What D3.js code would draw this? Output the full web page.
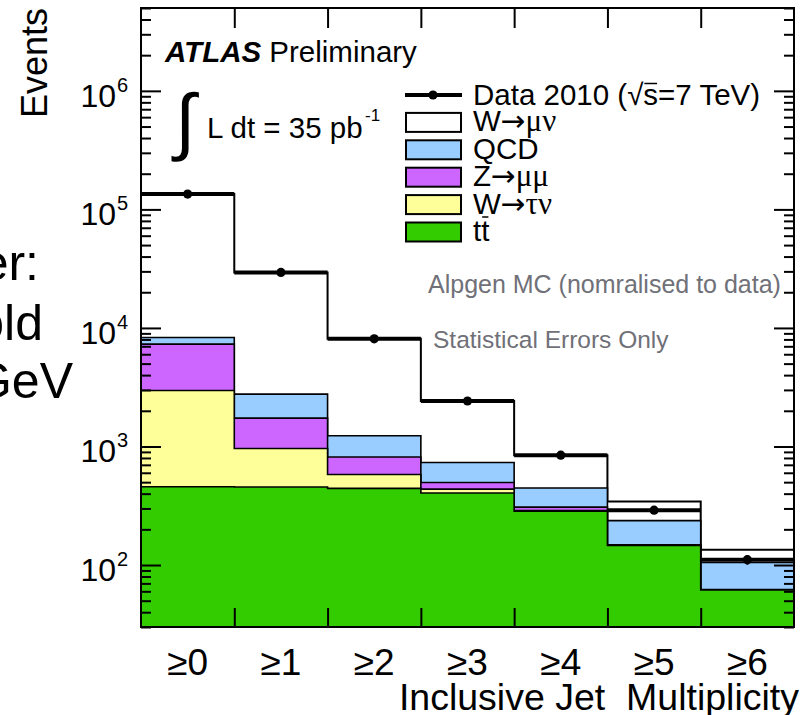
<!DOCTYPE html>
<html><head><meta charset="utf-8">
<script src="https://cdn.jsdelivr.net/npm/d3@7"></script>
<style>
html,body{margin:0;padding:0;background:#fff;}
svg{display:block;}
text{font-family:"Liberation Sans",Arial,Helvetica,sans-serif;fill:#000;}
.greek{font-family:"Liberation Serif","DejaVu Serif",serif;}
.arrow{font-family:"DejaVu Sans",sans-serif;}
</style></head><body>
<svg id="chart" width="802" height="715"></svg>
<script>
// Inclusive jet multiplicity bins
const categories = ["≥0","≥1","≥2","≥3","≥4","≥5","≥6"];
// Observed events (data 2010)
const dataCounts = [134600, 29400, 8100, 2420, 845, 290, 111];
// Monte Carlo components, stacked bottom to top
const ttbar  = [457, 455, 443, 405, 284, 146, 61.5];
const wtaunu = [2508, 506, 138, 32, 4, 1, 0.3];
const zmumu  = [4335, 773, 234, 60, 20, 1, 0.3];
const qcd    = [1000, 1033, 415, 236, 138, 89, 43];
const wmunu  = [126300, 26633, 6870, 1687, 399, 107, 29.6];
// Axis decades and their printed exponents
const yMajorTicks = [1e2, 1e3, 1e4, 1e5, 1e6];
const yTickExponents = ["2", "3", "4", "5", "6"];

const svg = d3.select("#chart");
const plotLeft = 141, plotRight = 794, plotTop = 8, plotBottom = 627;

const x = d3.scaleLinear().domain([0, categories.length]).range([plotLeft, plotRight]);
const y = d3.scaleLog().domain([30, 5e6]).range([plotBottom, plotTop]);

const components = [
  {key: "ttbar",  values: ttbar,  color: "#33cc00"},
  {key: "wtaunu", values: wtaunu, color: "#ffff99"},
  {key: "zmumu",  values: zmumu,  color: "#cc66ff"},
  {key: "qcd",    values: qcd,    color: "#99ccff"},
  {key: "wmunu",  values: wmunu,  color: "#ffffff"}
];

const rows = categories.map((c, i) => {
  const r = {bin: i};
  components.forEach(s => r[s.key] = s.values[i]);
  return r;
});
const stacked = d3.stack().keys(components.map(s => s.key))(rows);

const stepPoints = layer => {
  const pts = layer.map((d, i) => [x(i), y(d[1])]);
  pts.push([x(layer.length), y(layer[layer.length - 1][1])]);
  return pts;
};
const area = d3.area().x(d => d[0]).y0(plotBottom).y1(d => d[1]).curve(d3.curveStepAfter);
const line = d3.line().x(d => d[0]).y(d => d[1]).curve(d3.curveStepAfter);

const plot = svg.append("g");
// Paint cumulative layers from the top of the stack downward
stacked.slice().reverse().forEach(layer => {
  const comp = components.find(s => s.key === layer.key);
  const pts = stepPoints(layer);
  plot.append("path").attr("d", area(pts)).attr("fill", comp.color);
  plot.append("path").attr("d", line(pts)).attr("fill", "none")
    .attr("stroke", "#000").attr("stroke-width", layer.key === "wmunu" ? 2 : 1.6);
});

// Data points with bin-width horizontal bars and statistical errors
const dataG = svg.append("g");
dataCounts.forEach((v, i) => {
  dataG.append("line").attr("x1", x(i)).attr("x2", x(i + 1))
    .attr("y1", y(v)).attr("y2", y(v)).attr("stroke", "#000").attr("stroke-width", 4);
  const err = Math.sqrt(v);
  dataG.append("line").attr("x1", x(i + 0.5)).attr("x2", x(i + 0.5))
    .attr("y1", y(v + err)).attr("y2", y(v - err)).attr("stroke", "#000").attr("stroke-width", 2);
  dataG.append("circle").attr("cx", x(i + 0.5)).attr("cy", y(v)).attr("r", 4.6).attr("fill", "#000");
});

// Axes: ticks drawn inward on all four sides
const minorTicks = [];
for (let e = 1; e <= 6; e++) for (let m = 2; m <= 9; m++) {
  const v = m * Math.pow(10, e);
  if (v >= 30 && v <= 5e6) minorTicks.push(v);
}
const styleAxis = g => { g.select(".domain").remove(); g.selectAll("text").remove();
  g.selectAll("line").attr("stroke", "#000").attr("stroke-width", 2); };

svg.append("g").attr("transform", `translate(${plotLeft},0)`)
  .call(d3.axisLeft(y).tickValues(yMajorTicks).tickSize(-20)).call(styleAxis);
svg.append("g").attr("transform", `translate(${plotLeft},0)`)
  .call(d3.axisLeft(y).tickValues(minorTicks).tickSize(-10)).call(styleAxis);
svg.append("g").attr("transform", `translate(${plotRight},0)`)
  .call(d3.axisRight(y).tickValues(yMajorTicks).tickSize(-20)).call(styleAxis);
svg.append("g").attr("transform", `translate(${plotRight},0)`)
  .call(d3.axisRight(y).tickValues(minorTicks).tickSize(-10)).call(styleAxis);

const edges = d3.range(1, categories.length);
svg.append("g").attr("transform", `translate(0,${plotBottom})`)
  .call(d3.axisBottom(x).tickValues(edges).tickSize(-19)).call(styleAxis);
svg.append("g").attr("transform", `translate(0,${plotTop})`)
  .call(d3.axisTop(x).tickValues(edges).tickSize(-20)).call(styleAxis);

// Frame
svg.append("rect").attr("x", plotLeft).attr("y", plotTop).attr("width", plotRight - plotLeft)
  .attr("height", plotBottom - plotTop).attr("fill", "none").attr("stroke", "#000").attr("stroke-width", 2);

// Y tick labels 10^n
yMajorTicks.forEach((v, i) => {
  svg.append("text").attr("x", 116).attr("y", y(v) + 16).attr("text-anchor", "end")
    .attr("font-size", 32).text("10");
  svg.append("text").attr("x", 117).attr("y", y(v) + 1).attr("font-size", 20)
    .text(yTickExponents[i]);
});

// X tick labels
categories.forEach((c, i) => {
  svg.append("text").attr("x", x(i + 0.5)).attr("y", 675).attr("text-anchor", "middle")
    .attr("font-size", 37).text(c);
});

// Axis titles
svg.append("text").attr("x", 799).attr("y", 710).attr("text-anchor", "end")
  .attr("font-size", 37.5).attr("xml:space", "preserve").text("Inclusive Jet  Multiplicity");
svg.append("text").attr("transform", "translate(47,8) rotate(-90)").attr("text-anchor", "end")
  .attr("font-size", 36).text("Events");

// Slide text at the left edge
[["er:", 39, 280], ["old", 43, 340], ["GeV", 73, 398]].forEach(([t, tx, ty]) => {
  svg.append("text").attr("x", tx).attr("y", ty).attr("text-anchor", "end")
    .attr("font-size", 50).text(t);
});

// ATLAS label and luminosity
const atlas = svg.append("text").attr("x", 165).attr("y", 62).attr("font-size", 29.5);
atlas.append("tspan").attr("font-weight", "bold").attr("font-style", "italic").text("ATLAS");
atlas.append("tspan").text(" Preliminary");
svg.append("text").attr("x", 175).attr("y", 146).attr("font-size", 74)
  .attr("font-family", "Liberation Serif, DejaVu Serif").text("∫");
svg.append("text").attr("x", 207).attr("y", 138).attr("font-size", 29.5).text("L dt = 35 pb");
svg.append("text").attr("x", 365).attr("y", 121).attr("font-size", 17).text("-1");

// Draws a bar over a run of characters of a text element
const barOver = (textSel, fromChar, toChar, dy) => {
  const node = textSel.node();
  const a = node.getExtentOfChar(fromChar), b = node.getExtentOfChar(toChar);
  d3.select(node.parentNode).append("line")
    .attr("x1", a.x + 1).attr("x2", b.x + b.width - 1)
    .attr("y1", a.y + dy).attr("y2", a.y + dy)
    .attr("stroke", "#000").attr("stroke-width", 1.5);
};

// Legend
const legendRowY = i => 95 + 27.4 * i;
const lg = svg.append("g");
lg.append("line").attr("x1", 405).attr("x2", 462).attr("y1", legendRowY(0)).attr("y2", legendRowY(0))
  .attr("stroke", "#000").attr("stroke-width", 4);
lg.append("circle").attr("cx", 433).attr("cy", legendRowY(0)).attr("r", 4.6).attr("fill", "#000");
const dataLabel = lg.append("text").attr("x", 473).attr("y", legendRowY(0) + 10).attr("font-size", 29.5)
  .text("Data 2010 (√s=7 TeV)");
barOver(dataLabel, 12, 12, 5.5);

const legendEntries = [
  {parts: [["W", ""], ["→", "arrow"], ["μν", "greek"]], color: "#ffffff"},
  {parts: [["QCD", ""]], color: "#99ccff"},
  {parts: [["Z", ""], ["→", "arrow"], ["μμ", "greek"]], color: "#cc66ff"},
  {parts: [["W", ""], ["→", "arrow"], ["τν", "greek"]], color: "#ffff99"},
  {parts: [["tt", ""]], color: "#33cc00", bar: 1}
];
legendEntries.forEach((d, k) => {
  const cy = legendRowY(k + 1);
  lg.append("rect").attr("x", 406).attr("y", cy - 9.5).attr("width", 55).attr("height", 19)
    .attr("fill", d.color).attr("stroke", "#000").attr("stroke-width", 2);
  const t = lg.append("text").attr("x", 473).attr("y", cy + 9).attr("font-size", 29.5);
  d.parts.forEach(([s, cls]) => {
    const ts = t.append("tspan").text(s);
    if (cls) ts.attr("class", cls);
    if (cls === "greek") ts.attr("font-size", 31);
  });
  if (d.bar !== undefined) barOver(t, d.bar, d.bar, 3);
});

// Notes
svg.append("text").attr("x", 428).attr("y", 293).attr("font-size", 25).style("fill", "#707078")
  .text("Alpgen MC (nomralised to data)");
svg.append("text").attr("x", 433).attr("y", 348).attr("font-size", 24.5).style("fill", "#707078")
  .text("Statistical Errors Only");
</script>
</body></html>
